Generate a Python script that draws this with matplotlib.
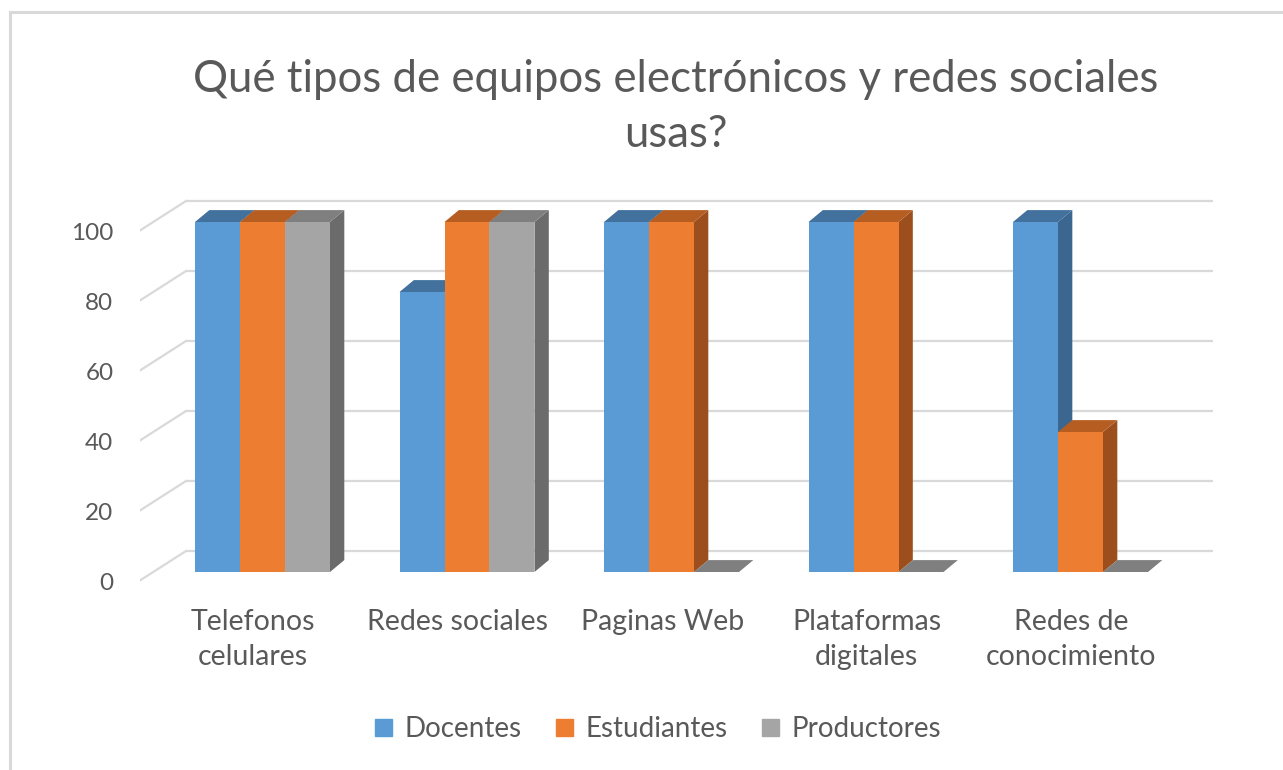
import matplotlib.pyplot as plt
from matplotlib.patches import Polygon, Patch
import numpy as np

plt.rcParams['font.family'] = ['Lato', 'DejaVu Sans']

categorias = ['Telefonos\ncelulares', 'Redes sociales', 'Paginas Web',
              'Plataformas\ndigitales', 'Redes de\nconocimiento']
series = ['Docentes', 'Estudiantes', 'Productores']
docentes = [100, 80, 100, 100, 100]
estudiantes = [100, 100, 100, 100, 40]
productores = [100, 100, 0, 0, 0]
valores = [docentes, estudiantes, productores]
yticks = [0, 20, 40, 60, 80, 100]

# front, top, side shades for each series
colores = [('#5b9bd5', '#41719c', '#3a6690'),
           ('#ed7d31', '#b65e22', '#9c4f1d'),
           ('#a5a5a5', '#7f7f7f', '#6b6b6b')]

texto = '#595959'
grid_c = '#d9d9d9'

# pseudo 3D geometry (data units)
ancho = 0.22          # bar width
dx, dy = 0.07, 3.4    # bar depth
bx, by = 0.19, 6.0    # back wall offset from bar front
fx, fy = -0.04, -2.6  # front axis offset from bar front

fig = plt.figure(figsize=(12.83, 7.70), dpi=100)
ax = fig.add_axes([140 / 1283, 170 / 770, 1090 / 1283, 420 / 770])
ax.set_xlim(-0.599, 4.731)
ax.set_ylim(-8, 112)
ax.axis('off')

x = np.arange(len(categorias))
x_back0, x_back1 = -0.374, 4.648

for v in yticks:
    ax.plot([x_back0, x_back1], [v + by, v + by], color=grid_c, lw=1.6, zorder=1,
            solid_capstyle='butt')
    ax.plot([x_back0 - (bx - fx), x_back0], [v + fy, v + by], color=grid_c, lw=1.6,
            zorder=1)
    ax.text(x_back0 - (bx - fx) - 0.125, v + fy - 0.6, str(v), ha='right',
            va='center', fontsize=17.5, color=texto)

z = 2
for i in range(len(categorias)):
    for j, vals in enumerate(valores):
        h = vals[i]
        x0 = x[i] + (j - 1.5) * ancho
        x1 = x0 + ancho
        frente, arriba, lado = colores[j]
        lado_pts = [(x1, 0), (x1 + dx, dy), (x1 + dx, h + dy), (x1, h)]
        top_pts = [(x0, h), (x0 + dx, h + dy), (x1 + dx, h + dy), (x1, h)]
        ax.add_patch(Polygon(lado_pts, closed=True, fc=lado, ec='none', zorder=z))
        ax.add_patch(Polygon(top_pts, closed=True, fc=arriba, ec='none', zorder=z + 1))
        if h > 0:
            ax.bar(x0, h, width=ancho, align='edge', color=frente, zorder=z + 2,
                   linewidth=0)
        z += 3

for i, cat in enumerate(categorias):
    ax.text(x[i] - 0.045, -10.5, cat, ha='center', va='top', fontsize=20.5,
            color=texto, linespacing=1.42, clip_on=False)

fig.text(0.527, 0.861, 'Qué tipos de equipos electrónicos y redes sociales\nusas?',
         ha='center', va='center', fontsize=31.5, color=texto, linespacing=1.42)

handles = [Patch(color=c[0], label=s) for c, s in zip(colores, series)]
fig.legend(handles=handles, loc='center', bbox_to_anchor=(0.513, 0.053), ncol=3,
           frameon=False, fontsize=20, handlelength=0.6, handleheight=0.6,
           handletextpad=0.45, columnspacing=1.25, labelcolor=texto)

# chart border
fig.add_artist(plt.Line2D([10 / 1283, 10 / 1283], [0, 1 - 12 / 770],
                          color='#d9d9d9', lw=2.2, transform=fig.transFigure))
fig.add_artist(plt.Line2D([10 / 1283, 1], [1 - 12 / 770, 1 - 12 / 770],
                          color='#d9d9d9', lw=2.2, transform=fig.transFigure))

fig.savefig('out.png', dpi=100, facecolor='white')
